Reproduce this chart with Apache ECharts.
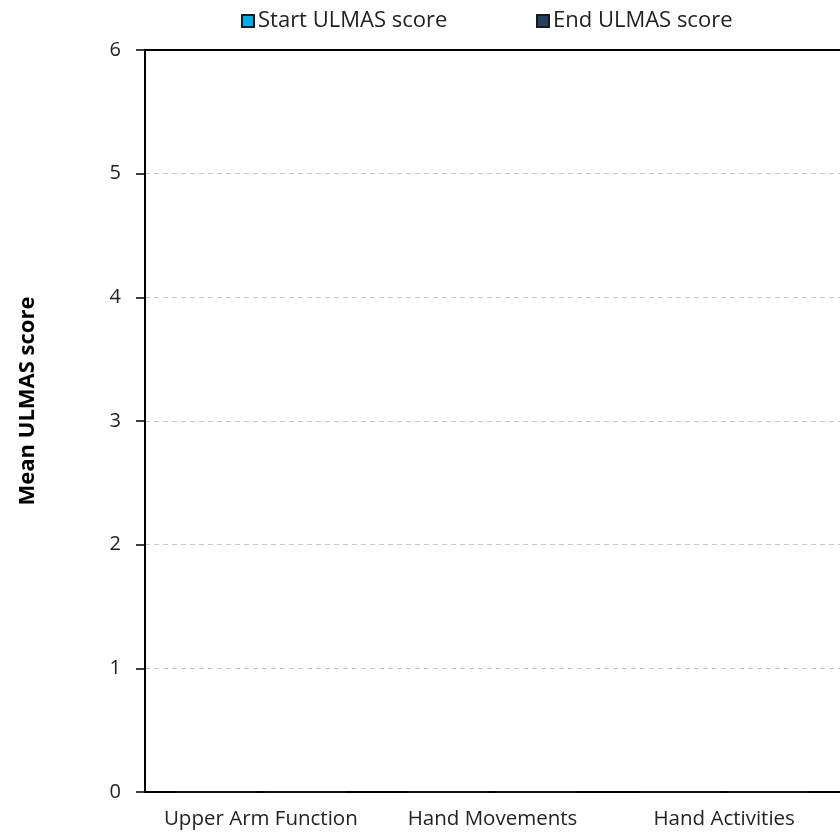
<!DOCTYPE html>
<html>
<head>
<meta charset="utf-8">
<script src="https://cdn.jsdelivr.net/npm/echarts@6/dist/echarts.min.js"></script>
<style>
  html, body { margin: 0; padding: 0; background: #fff; }
  #chart { width: 840px; height: 834px; }
</style>
</head>
<body>
<div id="chart"></div>
<script>
// categories and scores (no bars are visible in the picture)
var categories = ['Upper Arm Function', 'Hand Movements', 'Hand Activities'];
var startScores = [0, 0, 0];
var endScores = [0, 0, 0];
var yTicks = [0, 1, 2, 3, 4, 5, 6];

var fontName = 'Open Sans';
var chart = echarts.init(document.getElementById('chart'));

var option = {
  animation: false,
  textStyle: { fontFamily: fontName },
  legend: [
    {
      data: ['Start ULMAS score'],
      left: 236, top: 5,
      itemWidth: 12, itemHeight: 12, itemGap: 4,
      icon: 'rect',
      textStyle: { fontSize: 22, color: '#222', padding: [0, 0, 0, -1] }
    },
    {
      data: ['End ULMAS score'],
      left: 531, top: 5,
      itemWidth: 12, itemHeight: 12, itemGap: 4,
      icon: 'rect',
      textStyle: { fontSize: 22, color: '#222', padding: [0, 0, 0, -1] }
    }
  ],
  grid: { left: 145, top: 50, width: 702, bottom: 42 },
  xAxis: [
    {
      type: 'category',
      data: categories,
      axisLine: { lineStyle: { color: '#000', width: 2 } },
      axisTick: { show: false },
      axisLabel: { fontSize: 20.5, color: '#222', margin: 17, interval: 0 }
    },
    {
      type: 'category',
      position: 'top',
      data: categories,
      axisLine: { lineStyle: { color: '#000', width: 2 } },
      axisTick: { show: false },
      axisLabel: { show: false }
    }
  ],
  yAxis: {
    type: 'value',
    min: yTicks[0],
    max: yTicks[yTicks.length - 1],
    interval: 1,
    name: 'Mean ULMAS score',
    nameLocation: 'middle',
    nameGap: 106,
    nameTextStyle: { fontSize: 22, fontWeight: 'bold', color: '#000', padding: [0, 0, 0, 40] },
    axisLine: { show: true, lineStyle: { color: '#000', width: 2 } },
    axisTick: { show: true, length: 9, lineStyle: { color: '#000', width: 1.5 } },
    axisLabel: { fontSize: 20, color: '#222', margin: 24 },
    splitLine: { show: true, lineStyle: { color: '#c8c8c8', type: [5, 4], width: 1 } }
  },
  series: [
    {
      name: 'Start ULMAS score',
      type: 'bar',
      data: startScores,
      itemStyle: { color: '#00aeef', borderColor: '#1a1a1a', borderWidth: 1 }
    },
    {
      name: 'End ULMAS score',
      type: 'bar',
      data: endScores,
      itemStyle: { color: '#243f60', borderColor: '#1a1a1a', borderWidth: 1 }
    }
  ]
};

chart.setOption(option);
</script>
</body>
</html>
